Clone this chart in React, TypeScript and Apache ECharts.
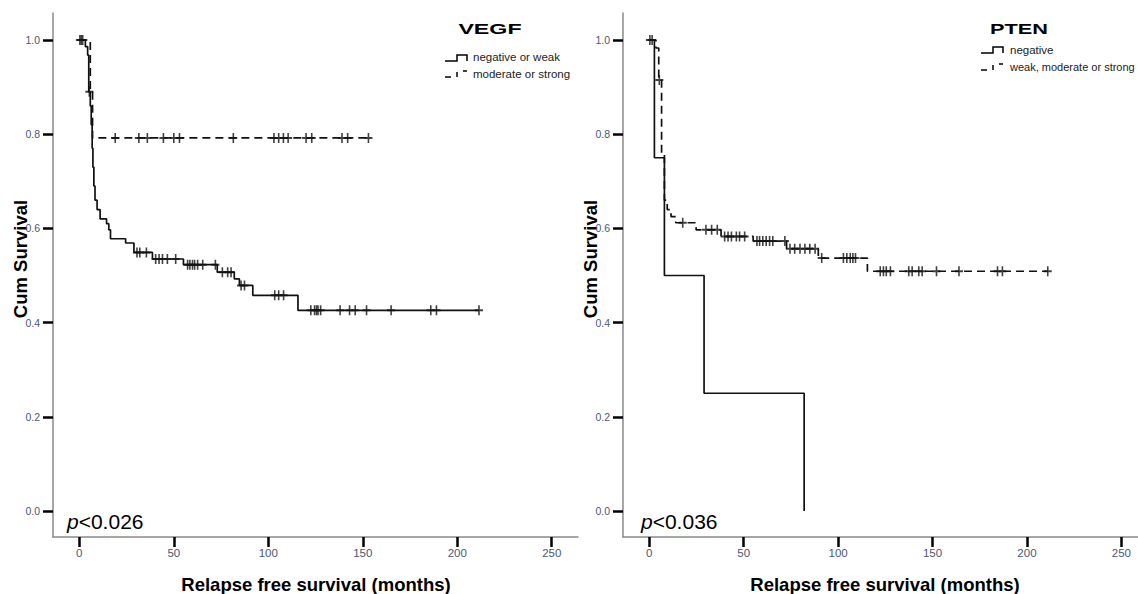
import React, { useEffect, useRef } from "react";
import * as echarts from "echarts";

// ---------- data ----------
const X_TICKS = [0, 50, 100, 150, 200, 250];
const Y_TICKS = [0, 0.2, 0.4, 0.6, 0.8, 1.0];

// VEGF negative or weak: [time, survival after event]
const VEGF_NEG_STEPS: number[][] = [
  [0, 1.0], [3.2, 0.986], [4.4, 0.968], [5.0, 0.89], [5.8, 0.86], [6.3, 0.82],
  [6.8, 0.77], [7.2, 0.73], [7.7, 0.69], [8.3, 0.66], [9.4, 0.64], [11.0, 0.62],
  [14.4, 0.61], [15.6, 0.597], [16.5, 0.578], [24.5, 0.569], [28.9, 0.549],
  [38.7, 0.535], [55.1, 0.523], [73.0, 0.507], [82.0, 0.493], [84.7, 0.479],
  [91.8, 0.458], [115.7, 0.426], [211.5, 0.426],
];
const VEGF_NEG_CENSOR = [
  0.3, 1.0, 1.8, 5.3, 30.5, 32, 35.5, 40.4, 42.2, 44, 46.6, 51, 57.3, 58.5, 59.9, 61,
  62.6, 65.3, 72, 75.7, 78.5, 80.3, 85.6, 87.4, 103.4, 105.5, 108.1, 122.5, 124.5,
  125.5, 126.3, 127.7, 138, 143, 146, 152, 165, 186, 189, 211.5,
];
// VEGF moderate or strong
const VEGF_POS_STEPS: number[][] = [
  [0, 1.0], [5.8, 0.89], [7.0, 0.792], [153, 0.792],
];
const VEGF_POS_CENSOR = [
  19, 31.5, 36, 44.5, 50, 53, 81.5, 103, 105.5, 108, 110.5, 120, 123, 139, 142, 153,
];
// PTEN negative
const PTEN_NEG_STEPS: number[][] = [
  [0, 1.0], [2.7, 0.75], [8.0, 0.5], [29.0, 0.25], [82.0, 0.0],
];
// PTEN weak, moderate or strong
const PTEN_POS_STEPS: number[][] = [
  [0, 1.0], [3.5, 0.983], [5.0, 0.915], [6.5, 0.76], [8.0, 0.66], [9.5, 0.64],
  [11.5, 0.625], [14.0, 0.612], [24.8, 0.597], [38.0, 0.583], [55.0, 0.573],
  [72.7, 0.557], [89.5, 0.537], [115.5, 0.509], [211, 0.509],
];
const PTEN_POS_CENSOR = [
  0.3, 1.5, 5.3, 17.7, 30, 33, 36, 39.9, 41.7, 43.5, 46.1, 47.8, 50.5, 57, 58.4, 60.1,
  61.9, 63.7, 65.4, 71.8, 74.5, 77, 79.8, 82.4, 85, 87.8, 91.3, 102.8, 104.6, 106.4,
  107.8, 109.2, 122.3, 124, 125.5, 127.7, 137.4, 139.2, 142.7, 144.5, 152.1, 164,
  184.4, 187, 211,
];

// ---------- helpers ----------
const survAt = (steps: number[][], t: number) => {
  let s = steps[0][1];
  for (const [ti, si] of steps) {
    if (ti <= t) s = si;
    else break;
  }
  return s;
};

const PLUS = "path://M4,0H6V4H10V6H6V10H4V6H0V4H4Z";
const INK = "#111";
const LABEL_COLOR = "#4a5878";
const DASH = [8, 5];

const xAxisCfg = (gridIndex: number, min: number, max: number) => ({
  type: "value",
  gridIndex,
  min,
  max,
  axisLine: { show: true, onZero: false, lineStyle: { color: "#8a8a8a", width: 1.5 } },
  axisTick: {
    show: true,
    length: 10,
    customValues: X_TICKS,
    lineStyle: { color: "#000", width: 2.5 },
  },
  axisLabel: {
    customValues: X_TICKS,
    margin: 10,
    color: LABEL_COLOR,
    fontSize: 11.5,
    fontFamily: "'Liberation Sans', Arial, sans-serif",
  },
  splitLine: { show: false },
});

const yAxisCfg = (gridIndex: number) => ({
  type: "value",
  gridIndex,
  min: -0.0552,
  max: 1.0573,
  axisLine: { show: true, onZero: false, lineStyle: { color: "#8a8a8a", width: 1.5 } },
  axisTick: {
    show: true,
    length: 10,
    customValues: Y_TICKS,
    lineStyle: { color: "#000", width: 2.5 },
  },
  axisLabel: {
    customValues: Y_TICKS,
    margin: 13,
    color: LABEL_COLOR,
    fontSize: 10.5,
    fontFamily: "'Liberation Sans', Arial, sans-serif",
    formatter: (v: number) => v.toFixed(1),
  },
  splitLine: { show: false },
});

const stepSeries = (idx: number, steps: number[][], dashed: boolean) => ({
  type: "line",
  xAxisIndex: idx,
  yAxisIndex: idx,
  step: "end",
  showSymbol: false,
  symbol: "none",
  data: steps,
  lineStyle: { color: INK, width: 1.7, type: dashed ? DASH : "solid" },
  silent: true,
  z: 2,
});

const censorSeries = (idx: number, steps: number[][], censor: number[]) => ({
  type: "scatter",
  xAxisIndex: idx,
  yAxisIndex: idx,
  symbol: PLUS,
  symbolSize: [8, 10],
  data: censor.map((t) => [t, survAt(steps, t)]),
  itemStyle: { color: INK },
  silent: true,
  z: 3,
});

const txt = (x: number, y: number, text: string, font: string, extra: any = {}) => ({
  type: "text",
  x,
  y,
  ...extra,
  style: {
    text,
    font,
    fill: extra.fill || "#000",
    textAlign: extra.align || "center",
    align: extra.align || "center",
    textVerticalAlign: "middle",
    verticalAlign: "middle",
    rich: extra.rich,
  },
});

const seg = (x1: number, y1: number, x2: number, y2: number) => ({
  type: "line",
  shape: { x1, y1, x2, y2 },
  style: { stroke: "#000", lineWidth: 1.5 },
});

const legendSymbols = (x0: number, ySolid: number, yDash: number) => [
  {
    type: "polyline",
    shape: {
      points: [
        [x0, ySolid + 3],
        [x0 + 12, ySolid + 3],
        [x0 + 12, ySolid - 3],
        [x0 + 22, ySolid - 3],
        [x0 + 22, ySolid + 3],
      ],
    },
    style: { stroke: "#000", lineWidth: 1.5, fill: null },
  },
  seg(x0, yDash + 3, x0 + 6, yDash + 3),
  seg(x0 + 12, yDash - 2, x0 + 12, yDash + 3),
  seg(x0 + 18, yDash - 3, x0 + 22, yDash - 3),
];

const TITLE_FONT = "bold 18.5px 'Liberation Sans', Arial, sans-serif";
const LEG_FONT = "11.5px 'Liberation Sans', Arial, sans-serif";
const LEG_FONT_SMALL = "11px 'Liberation Sans', Arial, sans-serif";
const P_FONT = "21px 'Liberation Sans', Arial, sans-serif";

export default function App() {
  const ref = useRef<HTMLDivElement>(null);
  useEffect(() => {
    if (!ref.current) return;
    const chart = echarts.init(ref.current, undefined, { renderer: "svg" });
    chart.setOption({
      animation: false,
      backgroundColor: "#fff",
      grid: [
        { left: 53, top: 13, width: 525, height: 524, containLabel: false, outerBoundsMode: "none" },
        { left: 623, top: 13, width: 515, height: 524, containLabel: false, outerBoundsMode: "none" },
      ],
      xAxis: [xAxisCfg(0, -13.93, 263.9), xAxisCfg(1, -13.93, 258.8)],
      yAxis: [yAxisCfg(0), yAxisCfg(1)],
      series: [
        stepSeries(0, VEGF_NEG_STEPS, false),
        stepSeries(0, VEGF_POS_STEPS, true),
        censorSeries(0, VEGF_NEG_STEPS, VEGF_NEG_CENSOR),
        censorSeries(0, VEGF_POS_STEPS, VEGF_POS_CENSOR),
        stepSeries(1, PTEN_NEG_STEPS, false),
        stepSeries(1, PTEN_POS_STEPS, true),
        censorSeries(1, PTEN_POS_STEPS, PTEN_POS_CENSOR),
      ],
      graphic: [
        txt(20, 259, "Cum Survival", TITLE_FONT, { rotation: Math.PI / 2 }),
        txt(590, 259, "Cum Survival", TITLE_FONT, { rotation: Math.PI / 2 }),
        txt(316, 584, "Relapse free survival (months)", TITLE_FONT),
        txt(885, 584, "Relapse free survival (months)", TITLE_FONT),
        txt(67, 521, "{i|p}<0.026", P_FONT, {
          align: "left",
          rich: { i: { fontStyle: "italic", font: "italic 21px 'Liberation Sans', Arial, sans-serif" } },
        }),
        txt(641, 521, "{i|p}<0.036", P_FONT, {
          align: "left",
          rich: { i: { fontStyle: "italic", font: "italic 21px 'Liberation Sans', Arial, sans-serif" } },
        }),
        txt(490, 29, "VEGF", "bold 15px 'Liberation Sans', Arial, sans-serif", { scaleX: 1.55 }),
        txt(1019, 29, "PTEN", "bold 15px 'Liberation Sans', Arial, sans-serif", { scaleX: 1.45 }),
        ...legendSymbols(445, 58, 74),
        txt(473, 57, "negative or weak", LEG_FONT, { align: "left", fill: "#222" }),
        txt(473, 74, "moderate or strong", LEG_FONT, { align: "left", fill: "#222" }),
        ...legendSymbols(981, 50, 67),
        txt(1010, 49.5, "negative", LEG_FONT, { align: "left", fill: "#222" }),
        txt(1010, 67, "weak, moderate or strong", LEG_FONT_SMALL, { align: "left", fill: "#222" }),
      ],
    });
    return () => chart.dispose();
  }, []);
  return (
    <div
      ref={ref}
      style={{ position: "fixed", left: 0, top: 0, width: 1138, height: 594, background: "#fff" }}
    />
  );
}
